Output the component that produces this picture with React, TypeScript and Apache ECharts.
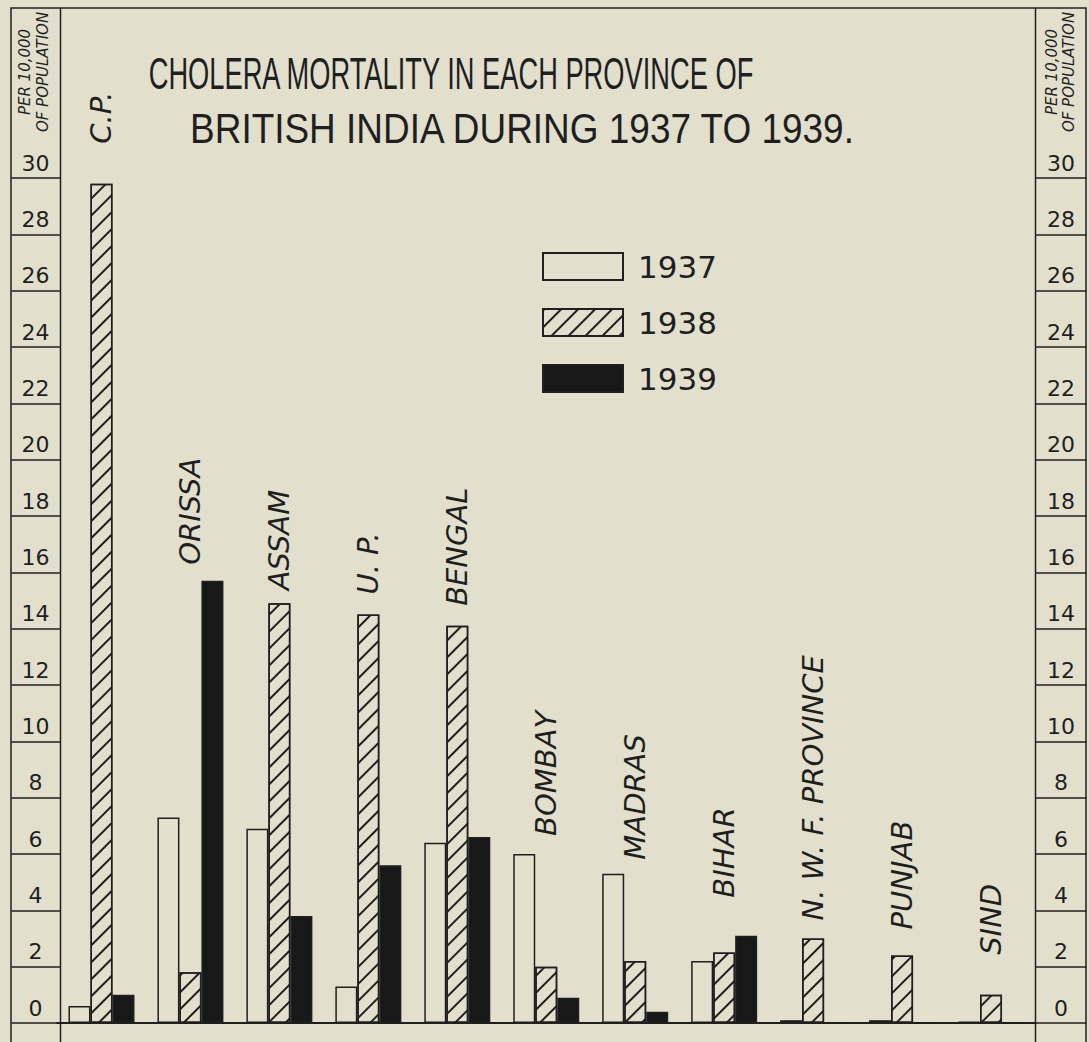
import React, { useEffect, useRef } from 'react';
import * as echarts from 'echarts';

// ---- data ----
const provinces = ['C.P.', 'ORISSA', 'ASSAM', 'U. P.', 'BENGAL', 'BOMBAY', 'MADRAS', 'BIHAR', 'N. W. F. PROVINCE', 'PUNJAB', 'SIND'];
const years = ['1937', '1938', '1939'];
const mortality1937 = [0.6, 7.3, 6.9, 1.3, 6.4, 6.0, 5.3, 2.2, 0.1, 0.1, 0.05];
const mortality1938 = [29.8, 1.8, 14.9, 14.5, 14.1, 2.0, 2.2, 2.5, 3.0, 2.4, 1.0];
const mortality1939 = [1.0, 15.7, 3.8, 5.6, 6.6, 0.9, 0.4, 3.1, 0, 0, 0];
const yMin = 0;
const yMax = 30;
const yStep = 2;
const titleLines = ['CHOLERA MORTALITY IN EACH PROVINCE OF', 'BRITISH INDIA DURING 1937 TO 1939.'];
const unitLines = ['PER 10,000', 'OF POPULATION'];

// ---- styling ----
const BG = '#e2e0cd';
const INK = '#1f1f1f';
const HAND = '"DejaVu Sans", "Liberation Sans", sans-serif';
const labelGaps = [40, 16, 13, 20, 20, 18, 14, 38, 18, 26, 40];

export default function App() {
  const ref = useRef<HTMLDivElement>(null);
  useEffect(() => {
    document.body.style.margin = '0';
    document.body.style.background = BG;
    const chart = echarts.init(ref.current!, null, { renderer: 'svg' });
    const groupMax = provinces.map((_, i) => Math.max(mortality1937[i], mortality1938[i], mortality1939[i]));

    const yAxisCommon = {
      type: 'value',
      min: yMin,
      max: yMax,
      interval: yStep,
      splitLine: { show: false },
      axisLine: { show: false },
      axisTick: { show: true, lineStyle: { color: INK, width: 1.5 } },
      axisLabel: {
        color: INK,
        fontFamily: HAND,
        fontSize: 22,
        align: 'center',
        verticalAlign: 'bottom',
        padding: [0, 0, 4, 0],
      },
    };

    const unitText = (x: number, text: string) => ({
      type: 'text',
      x,
      y: 72,
      rotation: Math.PI / 2,
      silent: true,
      style: { text, font: 'italic 15px "DejaVu Sans", sans-serif', fill: INK, textAlign: 'center', textVerticalAlign: 'middle' },
    });

    const option: any = {
      animation: false,
      backgroundColor: BG,
      grid: { left: 57, right: 53.5, top: 178, bottom: 19, containLabel: false },
      legend: {
        data: years,
        orient: 'vertical',
        left: 537,
        top: 246,
        itemWidth: 80,
        itemHeight: 27,
        itemGap: 25,
        icon: 'rect',
        textStyle: { fontFamily: HAND, fontSize: 31, color: INK, lineHeight: 27, padding: [0, 0, 0, 10] },
      },
      xAxis: {
        type: 'category',
        data: provinces,
        axisLine: { show: true, lineStyle: { color: INK, width: 2 } },
        axisTick: { show: false },
        axisLabel: { show: false },
      },
      yAxis: [
        { ...yAxisCommon, position: 'left', offset: -3.5, axisTick: { ...yAxisCommon.axisTick, length: 49 }, axisLabel: { ...yAxisCommon.axisLabel, margin: 25 } },
        { ...yAxisCommon, position: 'right', axisTick: { ...yAxisCommon.axisTick, length: 51 }, axisLabel: { ...yAxisCommon.axisLabel, margin: 25.5 } },
      ],
      series: [
        {
          name: years[0],
          type: 'bar',
          data: mortality1937,
          barWidth: 22,
          barGap: '0%',
          itemStyle: { color: BG, borderColor: INK, borderWidth: 1.5 },
        },
        {
          name: years[1],
          type: 'bar',
          data: mortality1938,
          barWidth: 22,
          barGap: '0%',
          itemStyle: {
            color: BG,
            borderColor: INK,
            borderWidth: 1.5,
            decal: {
              symbol: 'rect',
              symbolSize: 1,
              color: INK,
              dashArrayX: [1, 0],
              dashArrayY: [1.5, 10],
              rotation: -Math.PI / 4,
            },
          },
        },
        {
          name: years[2],
          type: 'bar',
          data: mortality1939,
          barWidth: 22,
          barGap: '0%',
          itemStyle: { color: '#181818', borderColor: INK, borderWidth: 1.5 },
        },
        {
          name: 'labels',
          type: 'scatter',
          data: provinces.map((_, i) => ({ value: groupMax[i], label: { distance: labelGaps[i] } })),
          symbolSize: 0,
          itemStyle: { color: INK },
          silent: true,
          z: 5,
          label: {
            show: true,
            position: 'top',
            rotate: 90,
            align: 'left',
            verticalAlign: 'middle',
            formatter: (p: any) => provinces[p.dataIndex],
            fontFamily: HAND,
            fontStyle: 'italic',
            fontSize: 29,
            color: INK,
            opacity: 1,
            textBorderWidth: 0,
          },
        },
      ],
      graphic: [
        { type: 'rect', shape: { x: 11, y: 8, width: 1075, height: 1045 }, style: { fill: 'none', stroke: INK, lineWidth: 1.5 }, silent: true },
        { type: 'line', shape: { x1: 60.5, y1: 8, x2: 60.5, y2: 1042 }, style: { stroke: INK, lineWidth: 1.5 }, silent: true },
        { type: 'line', shape: { x1: 1035.5, y1: 8, x2: 1035.5, y2: 1042 }, style: { stroke: INK, lineWidth: 1.5 }, silent: true },
        { type: 'text', x: 451, y: 74, scaleX: 0.62, style: { text: titleLines[0], font: '44px "Liberation Sans", sans-serif', fill: INK, textAlign: 'center', textVerticalAlign: 'middle' }, silent: true },
        { type: 'text', x: 522, y: 128, scaleX: 0.84, scaleY: 0.95, style: { text: titleLines[1], font: '44px "Liberation Sans", sans-serif', fill: INK, textAlign: 'center', textVerticalAlign: 'middle' }, silent: true },
        unitText(25, unitLines[0]),
        unitText(43, unitLines[1]),
        unitText(1052, unitLines[0]),
        unitText(1069, unitLines[1]),
      ],
    };
    chart.setOption(option);
    return () => chart.dispose();
  }, []);
  return <div ref={ref} style={{ width: 1089, height: 1042, background: BG }} />;
}
